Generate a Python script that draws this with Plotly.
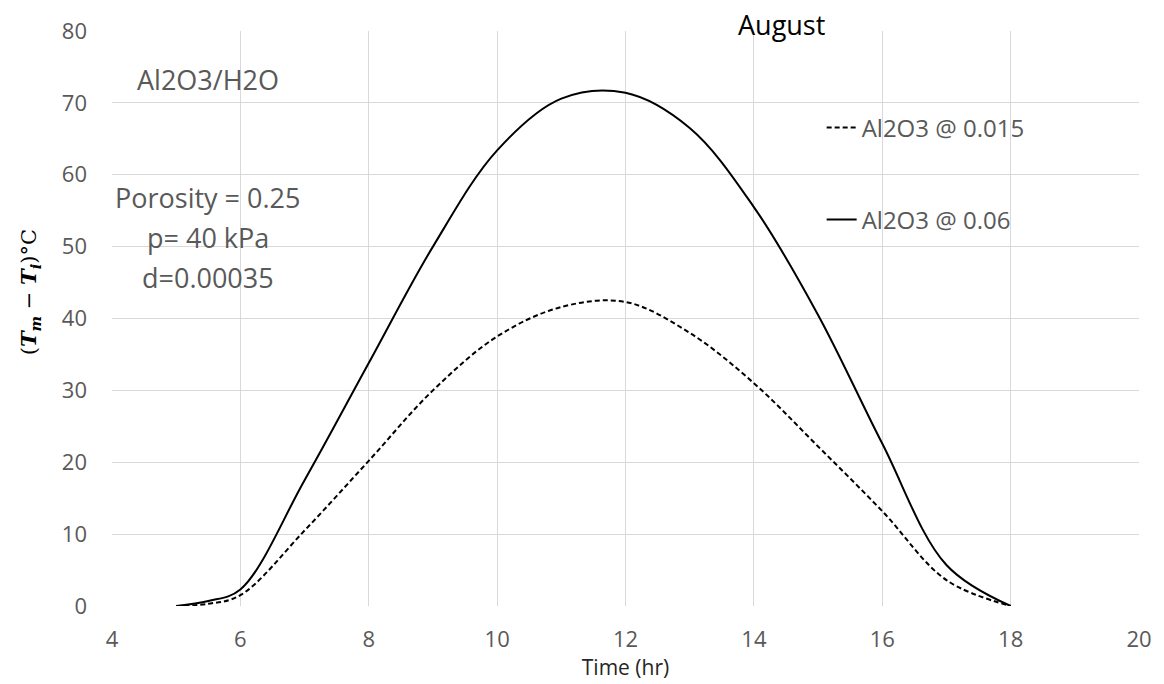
import plotly.graph_objects as go

time_hr = [5, 5.5, 6, 7, 8, 9, 10, 11, 12, 13, 14, 15, 16, 17, 18]
al2o3_0015 = [0, 0.3, 1.5, 10.5, 20.2, 30, 37.5, 41.6, 42.3, 38, 31, 22.2, 13.2, 3.6, 0]
al2o3_006 = [0, 0.7, 2.3, 17.5, 33.8, 50, 63.4, 70.6, 71.4, 66.5, 55.5, 40.5, 22.6, 5.7, 0]

GREY = "#595959"
FONT = "Open Sans"

fig = go.Figure()
fig.add_trace(go.Scatter(x=time_hr, y=al2o3_0015, mode="lines", name="Al2O3 @ 0.015",
                         line=dict(color="black", width=2, dash="5px,3px", shape="spline", smoothing=1),
                         legend="legend", showlegend=True))
fig.add_trace(go.Scatter(x=time_hr, y=al2o3_006, mode="lines", name="Al2O3 @ 0.06",
                         line=dict(color="black", width=2, shape="spline", smoothing=1),
                         legend="legend2", showlegend=True))

leg_common = dict(xanchor="left", yanchor="middle", bgcolor="rgba(0,0,0,0)",
                  font=dict(family=FONT, size=24, color=GREY), itemwidth=30, visible=True)
fig.update_layout(
    width=1164, height=684,
    margin=dict(l=112, r=22, t=31, b=78),
    paper_bgcolor="white", plot_bgcolor="white",
    showlegend=True,
    font=dict(family=FONT, color=GREY),
    legend=dict(x=0.691, y=(606 - 128) / 575, **leg_common),
    legend2=dict(x=0.691, y=(606 - 220) / 575, **leg_common),
    xaxis=dict(range=[4, 20], dtick=2, showgrid=True, gridcolor="#d9d9d9", gridwidth=1,
               zeroline=False, showline=False, ticks="", ticklabelstandoff=18,
               tickfont=dict(family=FONT, size=22, color=GREY),
               title=dict(text="Time (hr)", font=dict(family=FONT, size=21, color="#262626"), standoff=2)),
    yaxis=dict(range=[0, 80], dtick=10, showgrid=True, gridcolor="#d9d9d9", gridwidth=1,
               zeroline=False, showline=False, ticks="", ticklabelstandoff=24,
               tickfont=dict(family=FONT, size=22, color=GREY)),
)

ann = [
    dict(text="August", xpx=783, ypx=25, size=27, color="black"),
    dict(text="Al2O3/H2O", xpx=208, ypx=80, size=27, color=GREY),
    dict(text="Porosity = 0.25", xpx=208, ypx=197, size=27, color=GREY),
    dict(text="p= 40 kPa", xpx=208, ypx=237, size=27, color=GREY),
    dict(text="d=0.00035", xpx=208, ypx=277, size=27, color=GREY),
]
for a in ann:
    fig.add_annotation(text=a["text"], x=(a["xpx"] - 112) / 1030, y=(606 - a["ypx"]) / 575,
                       xref="paper", yref="paper", showarrow=False, xanchor="center", yanchor="middle",
                       font=dict(family=FONT, size=a["size"], color=a["color"]))

# y-axis title
fig.add_annotation(text="(<b><i>T<sub>m</sub></i></b> − <b><i>T<sub>i</sub></i></b>)°C",
                   x=(29 - 112) / 1030, y=(606 - 292) / 575, xref="paper", yref="paper",
                   showarrow=False, textangle=-90, xanchor="center", yanchor="middle",
                   font=dict(family="DejaVu Serif", size=21, color="black"))

fig.write_html("out.html")
